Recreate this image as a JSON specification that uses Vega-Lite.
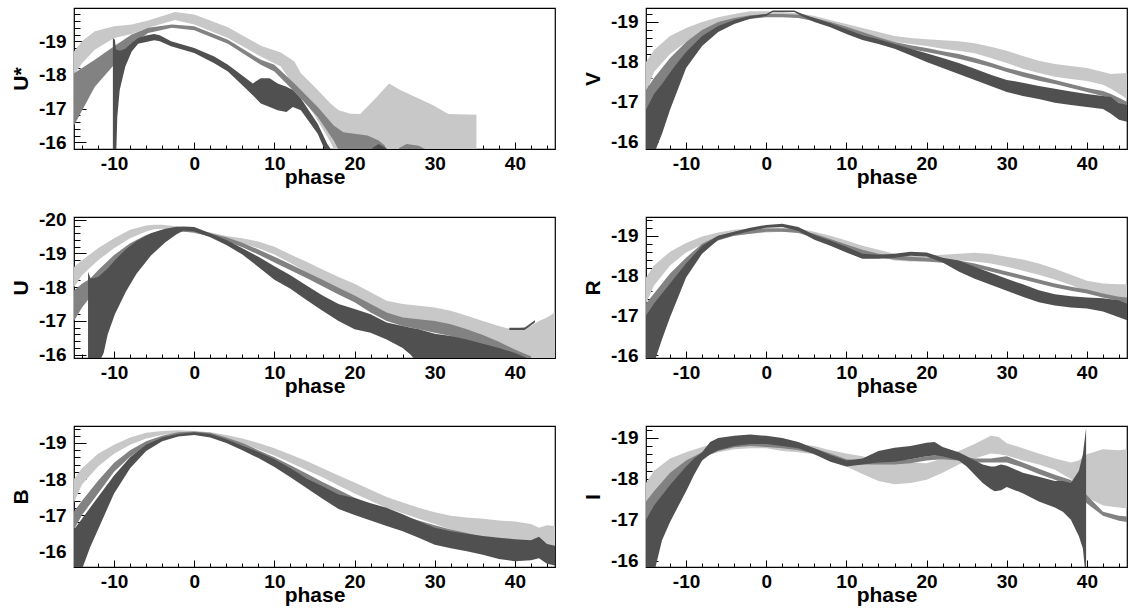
{
"$schema":"https://vega.github.io/schema/vega-lite/v6.json",
"padding":{"left":9,"top":7,"right":0,"bottom":0},
"bounds":"flush",
"columns":2,
"spacing":{"row":68,"column":91},
"config":{"font":"Liberation Sans","view":{"stroke":"#000","strokeWidth":1.2},
"axis":{"domain":false,"grid":false,"labelFont":"Liberation Sans","labelFontSize":19,"labelFontWeight":"bold","labelColor":"#000","tickColor":"#000","tickWidth":1,"titleFont":"Liberation Sans","titleFontSize":21,"titleFontWeight":"bold","titleColor":"#000","labelFlush":false,"labelOverlap":false}},
"data":{"values":[
{"b":"U*","s":"L","g":"L","p":-15,"t":-18.7,"u":-18.0},{"b":"U*","s":"L","g":"L","p":-14,"t":-19.0,"u":-18.35},{"b":"U*","s":"L","g":"L","p":-12.4,"t":-19.3,"u":-18.75},{"b":"U*","s":"L","g":"L","p":-10,"t":-19.45,"u":-19.1},{"b":"U*","s":"L","g":"L","p":-7.8,"t":-19.5,"u":-19.22},{"b":"U*","s":"L","g":"L","p":-5.75,"t":-19.62,"u":-19.4},{"b":"U*","s":"L","g":"L","p":-2.4,"t":-19.87,"u":-19.63},{"b":"U*","s":"L","g":"L","p":0,"t":-19.8,"u":-19.5},{"b":"U*","s":"L","g":"L","p":4.2,"t":-19.42,"u":-19.1},{"b":"U*","s":"L","g":"L","p":8.3,"t":-18.87,"u":-18.55},{"b":"U*","s":"L","g":"L","p":10.8,"t":-18.67,"u":-18.25},{"b":"U*","s":"L","g":"L","p":12.5,"t":-18.4,"u":-17.65},{"b":"U*","s":"L","g":"L","p":13.3,"t":-18.05,"u":-17.4},{"b":"U*","s":"L","g":"L","p":15,"t":-17.65,"u":-16.8},{"b":"U*","s":"L","g":"L","p":17,"t":-17.15,"u":-16.0},{"b":"U*","s":"L","g":"L","p":18,"t":-16.95,"u":-15.5},{"b":"U*","s":"L","g":"L","p":19.5,"t":-16.85,"u":-15.5},{"b":"U*","s":"L","g":"L","p":20.7,"t":-16.84,"u":-15.5},{"b":"U*","s":"L","g":"L","p":22.8,"t":-17.35,"u":-15.5},{"b":"U*","s":"L","g":"L","p":24.3,"t":-17.75,"u":-15.5},{"b":"U*","s":"L","g":"L","p":25.7,"t":-17.55,"u":-15.5},{"b":"U*","s":"L","g":"L","p":29.8,"t":-17.1,"u":-15.5},{"b":"U*","s":"L","g":"L","p":31.7,"t":-16.84,"u":-15.5},{"b":"U*","s":"L","g":"L","p":35.2,"t":-16.82,"u":-15.5},
{"b":"U*","s":"M","g":"M","p":-15,"t":-18.05,"u":-16.5},{"b":"U*","s":"M","g":"M","p":-12.4,"t":-18.45,"u":-17.65},{"b":"U*","s":"M","g":"M","p":-10,"t":-18.85,"u":-18.3},{"b":"U*","s":"M","g":"M","p":-7.8,"t":-19.2,"u":-18.9},{"b":"U*","s":"M","g":"M","p":-5.75,"t":-19.4,"u":-19.25},{"b":"U*","s":"M","g":"M","p":-2.8,"t":-19.5,"u":-19.4},{"b":"U*","s":"M","g":"M","p":0,"t":-19.45,"u":-19.33},{"b":"U*","s":"M","g":"M","p":4.2,"t":-19.05,"u":-18.93},{"b":"U*","s":"M","g":"M","p":8.3,"t":-18.45,"u":-18.3},{"b":"U*","s":"M","g":"M","p":10,"t":-18.3,"u":-18.1},{"b":"U*","s":"M","g":"M","p":12.5,"t":-17.75,"u":-17.5},{"b":"U*","s":"M","g":"M","p":13.3,"t":-17.55,"u":-17.3},{"b":"U*","s":"M","g":"M","p":15.4,"t":-17.05,"u":-16.75},{"b":"U*","s":"M","g":"M","p":17.4,"t":-16.5,"u":-16.05},{"b":"U*","s":"M","g":"M","p":18.6,"t":-16.3,"u":-15.5},{"b":"U*","s":"M","g":"M","p":21.6,"t":-16.2,"u":-15.5},{"b":"U*","s":"M","g":"M","p":23,"t":-16.05,"u":-15.5},{"b":"U*","s":"M","g":"M","p":23.8,"t":-15.9,"u":-15.5},
{"b":"U*","s":"M","g":"M2","p":25.5,"t":-15.82,"u":-15.5},{"b":"U*","s":"M","g":"M2","p":26.5,"t":-15.95,"u":-15.5},{"b":"U*","s":"M","g":"M2","p":28,"t":-15.9,"u":-15.5},{"b":"U*","s":"M","g":"M2","p":28.8,"t":-15.8,"u":-15.5},
{"b":"U*","s":"D","g":"D","p":-10.15,"t":-19.1,"u":-15.5},{"b":"U*","s":"D","g":"D","p":-9.9,"t":-19.05,"u":-15.5},{"b":"U*","s":"D","g":"D","p":-9.75,"t":-18.75,"u":-15.5},{"b":"U*","s":"D","g":"D","p":-9.6,"t":-18.75,"u":-16.75},{"b":"U*","s":"D","g":"D","p":-9.3,"t":-18.72,"u":-17.55},{"b":"U*","s":"D","g":"D","p":-8.6,"t":-18.78,"u":-18.25},{"b":"U*","s":"D","g":"D","p":-7.8,"t":-18.95,"u":-18.7},{"b":"U*","s":"D","g":"D","p":-7,"t":-19.1,"u":-18.93},{"b":"U*","s":"D","g":"D","p":-6,"t":-19.17,"u":-18.98},{"b":"U*","s":"D","g":"D","p":-5,"t":-19.22,"u":-19.03},{"b":"U*","s":"D","g":"D","p":-4.3,"t":-19.18,"u":-19.0},{"b":"U*","s":"D","g":"D","p":-2.9,"t":-19.0,"u":-18.85},{"b":"U*","s":"D","g":"D","p":0,"t":-18.8,"u":-18.65},{"b":"U*","s":"D","g":"D","p":2.5,"t":-18.55,"u":-18.35},{"b":"U*","s":"D","g":"D","p":4.2,"t":-18.3,"u":-18.1},{"b":"U*","s":"D","g":"D","p":6.2,"t":-17.95,"u":-17.65},{"b":"U*","s":"D","g":"D","p":7.3,"t":-17.75,"u":-17.4},{"b":"U*","s":"D","g":"D","p":8.3,"t":-17.9,"u":-17.15},{"b":"U*","s":"D","g":"D","p":9.4,"t":-17.9,"u":-17.05},{"b":"U*","s":"D","g":"D","p":10.4,"t":-17.75,"u":-16.95},{"b":"U*","s":"D","g":"D","p":11.5,"t":-17.65,"u":-16.9},{"b":"U*","s":"D","g":"D","p":12.3,"t":-17.55,"u":-17.05},{"b":"U*","s":"D","g":"D","p":13.3,"t":-17.3,"u":-16.95},{"b":"U*","s":"D","g":"D","p":15.4,"t":-16.55,"u":-16.25},{"b":"U*","s":"D","g":"D","p":16.6,"t":-15.95,"u":-15.6},{"b":"U*","s":"D","g":"D","p":17.3,"t":-15.7,"u":-15.5},
{"b":"U*","s":"D","g":"D2","p":22.2,"t":-15.82,"u":-15.5},{"b":"U*","s":"D","g":"D2","p":23,"t":-15.95,"u":-15.5},{"b":"U*","s":"D","g":"D2","p":24,"t":-15.82,"u":-15.5},

{"b":"V","s":"L","g":"L","p":-15,"t":-18.0,"u":-17.2},{"b":"V","s":"L","g":"L","p":-14,"t":-18.3,"u":-17.75},{"b":"V","s":"L","g":"L","p":-12,"t":-18.65,"u":-18.2},{"b":"V","s":"L","g":"L","p":-10,"t":-18.85,"u":-18.5},{"b":"V","s":"L","g":"L","p":-8,"t":-19.0,"u":-18.75},{"b":"V","s":"L","g":"L","p":-6,"t":-19.12,"u":-18.95},{"b":"V","s":"L","g":"L","p":-4,"t":-19.2,"u":-19.05},{"b":"V","s":"L","g":"L","p":-2,"t":-19.27,"u":-19.12},{"b":"V","s":"L","g":"L","p":0,"t":-19.27,"u":-19.15},{"b":"V","s":"L","g":"L","p":2,"t":-19.25,"u":-19.15},{"b":"V","s":"L","g":"L","p":4,"t":-19.22,"u":-19.12},{"b":"V","s":"L","g":"L","p":6,"t":-19.15,"u":-19.05},{"b":"V","s":"L","g":"L","p":8,"t":-19.05,"u":-18.93},{"b":"V","s":"L","g":"L","p":10,"t":-18.95,"u":-18.8},{"b":"V","s":"L","g":"L","p":12,"t":-18.85,"u":-18.7},{"b":"V","s":"L","g":"L","p":14,"t":-18.75,"u":-18.6},{"b":"V","s":"L","g":"L","p":16,"t":-18.65,"u":-18.5},{"b":"V","s":"L","g":"L","p":18,"t":-18.6,"u":-18.45},{"b":"V","s":"L","g":"L","p":20,"t":-18.57,"u":-18.4},{"b":"V","s":"L","g":"L","p":22,"t":-18.54,"u":-18.33},{"b":"V","s":"L","g":"L","p":24,"t":-18.52,"u":-18.28},{"b":"V","s":"L","g":"L","p":26,"t":-18.47,"u":-18.22},{"b":"V","s":"L","g":"L","p":28,"t":-18.38,"u":-18.1},{"b":"V","s":"L","g":"L","p":30,"t":-18.28,"u":-17.97},{"b":"V","s":"L","g":"L","p":32,"t":-18.15,"u":-17.83},{"b":"V","s":"L","g":"L","p":34,"t":-18.03,"u":-17.72},{"b":"V","s":"L","g":"L","p":36,"t":-17.95,"u":-17.63},{"b":"V","s":"L","g":"L","p":38,"t":-17.9,"u":-17.57},{"b":"V","s":"L","g":"L","p":40,"t":-17.85,"u":-17.52},{"b":"V","s":"L","g":"L","p":42,"t":-17.75,"u":-17.43},{"b":"V","s":"L","g":"L","p":43,"t":-17.7,"u":-17.33},{"b":"V","s":"L","g":"L","p":45,"t":-17.72,"u":-17.08},
{"b":"V","s":"M","g":"M","p":-15,"t":-17.3,"u":-16.6},{"b":"V","s":"M","g":"M","p":-14,"t":-17.6,"u":-17.1},{"b":"V","s":"M","g":"M","p":-12,"t":-18.1,"u":-17.75},{"b":"V","s":"M","g":"M","p":-10,"t":-18.5,"u":-18.2},{"b":"V","s":"M","g":"M","p":-8,"t":-18.8,"u":-18.55},{"b":"V","s":"M","g":"M","p":-6,"t":-19.0,"u":-18.85},{"b":"V","s":"M","g":"M","p":-4,"t":-19.1,"u":-19.0},{"b":"V","s":"M","g":"M","p":-2,"t":-19.17,"u":-19.08},{"b":"V","s":"M","g":"M","p":0,"t":-19.2,"u":-19.12},{"b":"V","s":"M","g":"M","p":2,"t":-19.2,"u":-19.12},{"b":"V","s":"M","g":"M","p":4,"t":-19.18,"u":-19.1},{"b":"V","s":"M","g":"M","p":6,"t":-19.1,"u":-19.02},{"b":"V","s":"M","g":"M","p":8,"t":-19.0,"u":-18.92},{"b":"V","s":"M","g":"M","p":10,"t":-18.88,"u":-18.78},{"b":"V","s":"M","g":"M","p":12,"t":-18.75,"u":-18.65},{"b":"V","s":"M","g":"M","p":14,"t":-18.62,"u":-18.52},{"b":"V","s":"M","g":"M","p":16,"t":-18.5,"u":-18.42},{"b":"V","s":"M","g":"M","p":18,"t":-18.42,"u":-18.32},{"b":"V","s":"M","g":"M","p":20,"t":-18.35,"u":-18.25},{"b":"V","s":"M","g":"M","p":22,"t":-18.27,"u":-18.17},{"b":"V","s":"M","g":"M","p":24,"t":-18.2,"u":-18.08},{"b":"V","s":"M","g":"M","p":26,"t":-18.1,"u":-17.98},{"b":"V","s":"M","g":"M","p":28,"t":-17.98,"u":-17.87},{"b":"V","s":"M","g":"M","p":30,"t":-17.85,"u":-17.75},{"b":"V","s":"M","g":"M","p":32,"t":-17.75,"u":-17.63},{"b":"V","s":"M","g":"M","p":34,"t":-17.65,"u":-17.53},{"b":"V","s":"M","g":"M","p":36,"t":-17.55,"u":-17.45},{"b":"V","s":"M","g":"M","p":38,"t":-17.45,"u":-17.35},{"b":"V","s":"M","g":"M","p":40,"t":-17.35,"u":-17.25},{"b":"V","s":"M","g":"M","p":42,"t":-17.27,"u":-17.15},{"b":"V","s":"M","g":"M","p":43,"t":-17.2,"u":-17.1},{"b":"V","s":"M","g":"M","p":45,"t":-17.0,"u":-16.85},
{"b":"V","s":"D","g":"D","p":-15,"t":-16.8,"u":-15.5},{"b":"V","s":"D","g":"D","p":-14,"t":-17.2,"u":-15.7},{"b":"V","s":"D","g":"D","p":-13,"t":-17.45,"u":-16.2},{"b":"V","s":"D","g":"D","p":-12,"t":-17.75,"u":-16.8},{"b":"V","s":"D","g":"D","p":-10,"t":-18.25,"u":-17.85},{"b":"V","s":"D","g":"D","p":-8,"t":-18.65,"u":-18.4},{"b":"V","s":"D","g":"D","p":-6,"t":-18.9,"u":-18.75},{"b":"V","s":"D","g":"D","p":-4,"t":-19.05,"u":-18.95},{"b":"V","s":"D","g":"D","p":-2,"t":-19.15,"u":-19.08},{"b":"V","s":"D","g":"D","p":0,"t":-19.2,"u":-19.15},{"b":"V","s":"D","g":"D","p":0.8,"t":-19.29,"u":-19.25},{"b":"V","s":"D","g":"D","p":3.5,"t":-19.29,"u":-19.25},{"b":"V","s":"D","g":"D","p":4.5,"t":-19.2,"u":-19.14},{"b":"V","s":"D","g":"D","p":6,"t":-19.1,"u":-19.0},{"b":"V","s":"D","g":"D","p":8,"t":-18.97,"u":-18.87},{"b":"V","s":"D","g":"D","p":10,"t":-18.82,"u":-18.7},{"b":"V","s":"D","g":"D","p":12,"t":-18.67,"u":-18.55},{"b":"V","s":"D","g":"D","p":14,"t":-18.57,"u":-18.45},{"b":"V","s":"D","g":"D","p":16,"t":-18.45,"u":-18.33},{"b":"V","s":"D","g":"D","p":18,"t":-18.33,"u":-18.17},{"b":"V","s":"D","g":"D","p":20,"t":-18.22,"u":-18.0},{"b":"V","s":"D","g":"D","p":22,"t":-18.1,"u":-17.85},{"b":"V","s":"D","g":"D","p":24,"t":-17.97,"u":-17.7},{"b":"V","s":"D","g":"D","p":26,"t":-17.83,"u":-17.55},{"b":"V","s":"D","g":"D","p":28,"t":-17.68,"u":-17.4},{"b":"V","s":"D","g":"D","p":30,"t":-17.55,"u":-17.25},{"b":"V","s":"D","g":"D","p":32,"t":-17.48,"u":-17.15},{"b":"V","s":"D","g":"D","p":34,"t":-17.4,"u":-17.07},{"b":"V","s":"D","g":"D","p":36,"t":-17.33,"u":-16.98},{"b":"V","s":"D","g":"D","p":38,"t":-17.26,"u":-16.92},{"b":"V","s":"D","g":"D","p":40,"t":-17.2,"u":-16.87},{"b":"V","s":"D","g":"D","p":42,"t":-17.15,"u":-16.82},{"b":"V","s":"D","g":"D","p":43,"t":-17.12,"u":-16.7},{"b":"V","s":"D","g":"D","p":44,"t":-16.97,"u":-16.55},{"b":"V","s":"D","g":"D","p":45,"t":-16.92,"u":-16.5},

{"b":"U","s":"L","g":"L","p":-15,"t":-18.6,"u":-18.0},{"b":"U","s":"L","g":"L","p":-14,"t":-18.8,"u":-18.35},{"b":"U","s":"L","g":"L","p":-12,"t":-19.15,"u":-18.8},{"b":"U","s":"L","g":"L","p":-10,"t":-19.45,"u":-19.15},{"b":"U","s":"L","g":"L","p":-8,"t":-19.7,"u":-19.45},{"b":"U","s":"L","g":"L","p":-6,"t":-19.83,"u":-19.65},{"b":"U","s":"L","g":"L","p":-5,"t":-19.85,"u":-19.72},{"b":"U","s":"L","g":"L","p":-4,"t":-19.85,"u":-19.73},{"b":"U","s":"L","g":"L","p":-2,"t":-19.8,"u":-19.7},{"b":"U","s":"L","g":"L","p":0,"t":-19.7,"u":-19.6},{"b":"U","s":"L","g":"L","p":2,"t":-19.62,"u":-19.52},{"b":"U","s":"L","g":"L","p":4,"t":-19.52,"u":-19.4},{"b":"U","s":"L","g":"L","p":6,"t":-19.45,"u":-19.3},{"b":"U","s":"L","g":"L","p":8,"t":-19.35,"u":-19.15},{"b":"U","s":"L","g":"L","p":10,"t":-19.2,"u":-18.97},{"b":"U","s":"L","g":"L","p":12,"t":-18.97,"u":-18.72},{"b":"U","s":"L","g":"L","p":14,"t":-18.75,"u":-18.45},{"b":"U","s":"L","g":"L","p":16,"t":-18.52,"u":-18.2},{"b":"U","s":"L","g":"L","p":18,"t":-18.3,"u":-17.92},{"b":"U","s":"L","g":"L","p":20,"t":-18.1,"u":-17.65},{"b":"U","s":"L","g":"L","p":22,"t":-17.85,"u":-17.4},{"b":"U","s":"L","g":"L","p":24,"t":-17.6,"u":-17.15},{"b":"U","s":"L","g":"L","p":26,"t":-17.5,"u":-17.0},{"b":"U","s":"L","g":"L","p":28,"t":-17.45,"u":-16.92},{"b":"U","s":"L","g":"L","p":30,"t":-17.4,"u":-16.85},{"b":"U","s":"L","g":"L","p":32,"t":-17.3,"u":-16.7},{"b":"U","s":"L","g":"L","p":34,"t":-17.15,"u":-16.5},{"b":"U","s":"L","g":"L","p":36,"t":-17.0,"u":-16.35},{"b":"U","s":"L","g":"L","p":38,"t":-16.85,"u":-16.15},{"b":"U","s":"L","g":"L","p":39,"t":-16.78,"u":-16.05},{"b":"U","s":"L","g":"L","p":40,"t":-16.77,"u":-15.8},{"b":"U","s":"L","g":"L","p":42,"t":-16.85,"u":-15.8},{"b":"U","s":"L","g":"L","p":43,"t":-17.0,"u":-15.8},{"b":"U","s":"L","g":"L","p":44,"t":-17.1,"u":-15.8},{"b":"U","s":"L","g":"L","p":45,"t":-17.25,"u":-15.8},
{"b":"U","s":"M","g":"M","p":-15,"t":-17.9,"u":-17.0},{"b":"U","s":"M","g":"M","p":-14,"t":-18.1,"u":-17.4},{"b":"U","s":"M","g":"M","p":-13,"t":-18.25,"u":-17.7},{"b":"U","s":"M","g":"M","p":-12,"t":-18.5,"u":-17.95},{"b":"U","s":"M","g":"M","p":-10,"t":-18.95,"u":-18.5},{"b":"U","s":"M","g":"M","p":-8,"t":-19.3,"u":-18.95},{"b":"U","s":"M","g":"M","p":-6,"t":-19.55,"u":-19.3},{"b":"U","s":"M","g":"M","p":-4,"t":-19.7,"u":-19.55},{"b":"U","s":"M","g":"M","p":-2,"t":-19.75,"u":-19.65},{"b":"U","s":"M","g":"M","p":0,"t":-19.7,"u":-19.62},{"b":"U","s":"M","g":"M","p":2,"t":-19.6,"u":-19.5},{"b":"U","s":"M","g":"M","p":4,"t":-19.48,"u":-19.36},{"b":"U","s":"M","g":"M","p":6,"t":-19.32,"u":-19.18},{"b":"U","s":"M","g":"M","p":8,"t":-19.12,"u":-18.97},{"b":"U","s":"M","g":"M","p":10,"t":-18.9,"u":-18.73},{"b":"U","s":"M","g":"M","p":12,"t":-18.68,"u":-18.5},{"b":"U","s":"M","g":"M","p":14,"t":-18.45,"u":-18.27},{"b":"U","s":"M","g":"M","p":16,"t":-18.22,"u":-18.03},{"b":"U","s":"M","g":"M","p":18,"t":-17.98,"u":-17.78},{"b":"U","s":"M","g":"M","p":20,"t":-17.75,"u":-17.55},{"b":"U","s":"M","g":"M","p":22,"t":-17.5,"u":-17.25},{"b":"U","s":"M","g":"M","p":24,"t":-17.25,"u":-17.0},{"b":"U","s":"M","g":"M","p":26,"t":-17.1,"u":-16.85},{"b":"U","s":"M","g":"M","p":28,"t":-17.05,"u":-16.75},{"b":"U","s":"M","g":"M","p":30,"t":-17.0,"u":-16.65},{"b":"U","s":"M","g":"M","p":32,"t":-16.9,"u":-16.55},{"b":"U","s":"M","g":"M","p":34,"t":-16.75,"u":-16.4},{"b":"U","s":"M","g":"M","p":36,"t":-16.58,"u":-16.25},{"b":"U","s":"M","g":"M","p":38,"t":-16.38,"u":-16.1},{"b":"U","s":"M","g":"M","p":40,"t":-16.15,"u":-15.9},{"b":"U","s":"M","g":"M","p":41,"t":-16.05,"u":-15.8},{"b":"U","s":"M","g":"M","p":42,"t":-15.95,"u":-15.7},
{"b":"U","s":"D","g":"D","p":-13.25,"t":-18.45,"u":-15.7},{"b":"U","s":"D","g":"D","p":-12.9,"t":-18.25,"u":-15.7},{"b":"U","s":"D","g":"D","p":-12,"t":-18.3,"u":-15.7},{"b":"U","s":"D","g":"D","p":-11.3,"t":-18.45,"u":-16.05},{"b":"U","s":"D","g":"D","p":-10.8,"t":-18.55,"u":-16.6},{"b":"U","s":"D","g":"D","p":-9.9,"t":-18.8,"u":-17.2},{"b":"U","s":"D","g":"D","p":-8.5,"t":-19.13,"u":-17.88},{"b":"U","s":"D","g":"D","p":-7.2,"t":-19.37,"u":-18.4},{"b":"U","s":"D","g":"D","p":-5.4,"t":-19.6,"u":-18.94},{"b":"U","s":"D","g":"D","p":-3.6,"t":-19.73,"u":-19.33},{"b":"U","s":"D","g":"D","p":-2.2,"t":-19.79,"u":-19.57},{"b":"U","s":"D","g":"D","p":-1.3,"t":-19.8,"u":-19.68},{"b":"U","s":"D","g":"D","p":0,"t":-19.78,"u":-19.65},{"b":"U","s":"D","g":"D","p":2,"t":-19.6,"u":-19.48},{"b":"U","s":"D","g":"D","p":4,"t":-19.4,"u":-19.25},{"b":"U","s":"D","g":"D","p":6,"t":-19.15,"u":-18.97},{"b":"U","s":"D","g":"D","p":8,"t":-18.9,"u":-18.6},{"b":"U","s":"D","g":"D","p":10,"t":-18.62,"u":-18.22},{"b":"U","s":"D","g":"D","p":12,"t":-18.35,"u":-17.95},{"b":"U","s":"D","g":"D","p":14,"t":-18.05,"u":-17.62},{"b":"U","s":"D","g":"D","p":16,"t":-17.75,"u":-17.3},{"b":"U","s":"D","g":"D","p":18,"t":-17.5,"u":-17.0},{"b":"U","s":"D","g":"D","p":20,"t":-17.35,"u":-16.75},{"b":"U","s":"D","g":"D","p":22,"t":-17.2,"u":-16.65},{"b":"U","s":"D","g":"D","p":24,"t":-16.95,"u":-16.45},{"b":"U","s":"D","g":"D","p":26,"t":-16.85,"u":-16.2},{"b":"U","s":"D","g":"D","p":27,"t":-16.8,"u":-16.0},{"b":"U","s":"D","g":"D","p":28,"t":-16.75,"u":-15.7},{"b":"U","s":"D","g":"D","p":30,"t":-16.62,"u":-15.7},{"b":"U","s":"D","g":"D","p":32,"t":-16.55,"u":-15.7},{"b":"U","s":"D","g":"D","p":34,"t":-16.45,"u":-15.7},{"b":"U","s":"D","g":"D","p":36,"t":-16.32,"u":-15.7},{"b":"U","s":"D","g":"D","p":38,"t":-16.2,"u":-15.7},{"b":"U","s":"D","g":"D","p":40,"t":-16.05,"u":-15.7},{"b":"U","s":"D","g":"D","p":41.5,"t":-15.9,"u":-15.7},
{"b":"U","s":"D","g":"D2","p":39.3,"t":-16.8,"u":-16.73},{"b":"U","s":"D","g":"D2","p":41.2,"t":-16.8,"u":-16.73},{"b":"U","s":"D","g":"D2","p":42.5,"t":-17.02,"u":-16.95},

{"b":"R","s":"L","g":"L","p":-15,"t":-17.95,"u":-17.3},{"b":"R","s":"L","g":"L","p":-14,"t":-18.25,"u":-17.75},{"b":"R","s":"L","g":"L","p":-12,"t":-18.6,"u":-18.25},{"b":"R","s":"L","g":"L","p":-10,"t":-18.82,"u":-18.58},{"b":"R","s":"L","g":"L","p":-8,"t":-18.98,"u":-18.78},{"b":"R","s":"L","g":"L","p":-6,"t":-19.08,"u":-18.92},{"b":"R","s":"L","g":"L","p":-4,"t":-19.15,"u":-19.0},{"b":"R","s":"L","g":"L","p":-2,"t":-19.18,"u":-19.05},{"b":"R","s":"L","g":"L","p":0,"t":-19.2,"u":-19.08},{"b":"R","s":"L","g":"L","p":2,"t":-19.2,"u":-19.1},{"b":"R","s":"L","g":"L","p":4,"t":-19.18,"u":-19.08},{"b":"R","s":"L","g":"L","p":6,"t":-19.1,"u":-18.98},{"b":"R","s":"L","g":"L","p":8,"t":-19.0,"u":-18.85},{"b":"R","s":"L","g":"L","p":10,"t":-18.88,"u":-18.7},{"b":"R","s":"L","g":"L","p":12,"t":-18.75,"u":-18.58},{"b":"R","s":"L","g":"L","p":14,"t":-18.65,"u":-18.48},{"b":"R","s":"L","g":"L","p":16,"t":-18.55,"u":-18.38},{"b":"R","s":"L","g":"L","p":18,"t":-18.5,"u":-18.35},{"b":"R","s":"L","g":"L","p":20,"t":-18.5,"u":-18.35},{"b":"R","s":"L","g":"L","p":22,"t":-18.52,"u":-18.37},{"b":"R","s":"L","g":"L","p":24,"t":-18.55,"u":-18.38},{"b":"R","s":"L","g":"L","p":26,"t":-18.57,"u":-18.35},{"b":"R","s":"L","g":"L","p":28,"t":-18.54,"u":-18.3},{"b":"R","s":"L","g":"L","p":30,"t":-18.47,"u":-18.22},{"b":"R","s":"L","g":"L","p":32,"t":-18.4,"u":-18.12},{"b":"R","s":"L","g":"L","p":34,"t":-18.3,"u":-18.02},{"b":"R","s":"L","g":"L","p":36,"t":-18.17,"u":-17.9},{"b":"R","s":"L","g":"L","p":38,"t":-18.02,"u":-17.76},{"b":"R","s":"L","g":"L","p":40,"t":-17.87,"u":-17.6},{"b":"R","s":"L","g":"L","p":42,"t":-17.8,"u":-17.53},{"b":"R","s":"L","g":"L","p":44,"t":-17.78,"u":-17.45},{"b":"R","s":"L","g":"L","p":45,"t":-17.78,"u":-17.4},
{"b":"R","s":"M","g":"M","p":-15,"t":-17.3,"u":-16.75},{"b":"R","s":"M","g":"M","p":-14,"t":-17.55,"u":-17.1},{"b":"R","s":"M","g":"M","p":-12,"t":-18.05,"u":-17.7},{"b":"R","s":"M","g":"M","p":-10,"t":-18.45,"u":-18.2},{"b":"R","s":"M","g":"M","p":-8,"t":-18.8,"u":-18.62},{"b":"R","s":"M","g":"M","p":-6,"t":-19.0,"u":-18.88},{"b":"R","s":"M","g":"M","p":-4,"t":-19.1,"u":-19.0},{"b":"R","s":"M","g":"M","p":-2,"t":-19.15,"u":-19.05},{"b":"R","s":"M","g":"M","p":0,"t":-19.18,"u":-19.1},{"b":"R","s":"M","g":"M","p":2,"t":-19.18,"u":-19.1},{"b":"R","s":"M","g":"M","p":4,"t":-19.15,"u":-19.07},{"b":"R","s":"M","g":"M","p":6,"t":-19.05,"u":-18.95},{"b":"R","s":"M","g":"M","p":8,"t":-18.92,"u":-18.82},{"b":"R","s":"M","g":"M","p":10,"t":-18.78,"u":-18.66},{"b":"R","s":"M","g":"M","p":12,"t":-18.65,"u":-18.53},{"b":"R","s":"M","g":"M","p":14,"t":-18.55,"u":-18.45},{"b":"R","s":"M","g":"M","p":16,"t":-18.5,"u":-18.4},{"b":"R","s":"M","g":"M","p":18,"t":-18.47,"u":-18.37},{"b":"R","s":"M","g":"M","p":20,"t":-18.45,"u":-18.35},{"b":"R","s":"M","g":"M","p":22,"t":-18.42,"u":-18.32},{"b":"R","s":"M","g":"M","p":24,"t":-18.38,"u":-18.28},{"b":"R","s":"M","g":"M","p":26,"t":-18.3,"u":-18.2},{"b":"R","s":"M","g":"M","p":28,"t":-18.2,"u":-18.1},{"b":"R","s":"M","g":"M","p":30,"t":-18.1,"u":-18.0},{"b":"R","s":"M","g":"M","p":32,"t":-18.0,"u":-17.9},{"b":"R","s":"M","g":"M","p":34,"t":-17.9,"u":-17.8},{"b":"R","s":"M","g":"M","p":36,"t":-17.8,"u":-17.7},{"b":"R","s":"M","g":"M","p":38,"t":-17.72,"u":-17.62},{"b":"R","s":"M","g":"M","p":40,"t":-17.65,"u":-17.55},{"b":"R","s":"M","g":"M","p":42,"t":-17.55,"u":-17.45},{"b":"R","s":"M","g":"M","p":44,"t":-17.47,"u":-17.37},{"b":"R","s":"M","g":"M","p":45,"t":-17.45,"u":-17.3},
{"b":"R","s":"D","g":"D","p":-15,"t":-17.0,"u":-15.5},{"b":"R","s":"D","g":"D","p":-14,"t":-17.3,"u":-15.8},{"b":"R","s":"D","g":"D","p":-13,"t":-17.55,"u":-16.4},{"b":"R","s":"D","g":"D","p":-12,"t":-17.8,"u":-16.95},{"b":"R","s":"D","g":"D","p":-10,"t":-18.3,"u":-17.95},{"b":"R","s":"D","g":"D","p":-8,"t":-18.75,"u":-18.55},{"b":"R","s":"D","g":"D","p":-6,"t":-19.0,"u":-18.9},{"b":"R","s":"D","g":"D","p":-4,"t":-19.1,"u":-19.02},{"b":"R","s":"D","g":"D","p":-2,"t":-19.2,"u":-19.12},{"b":"R","s":"D","g":"D","p":0,"t":-19.27,"u":-19.2},{"b":"R","s":"D","g":"D","p":2,"t":-19.3,"u":-19.22},{"b":"R","s":"D","g":"D","p":4,"t":-19.22,"u":-19.12},{"b":"R","s":"D","g":"D","p":6,"t":-19.02,"u":-18.9},{"b":"R","s":"D","g":"D","p":8,"t":-18.88,"u":-18.75},{"b":"R","s":"D","g":"D","p":10,"t":-18.72,"u":-18.58},{"b":"R","s":"D","g":"D","p":12,"t":-18.55,"u":-18.42},{"b":"R","s":"D","g":"D","p":14,"t":-18.52,"u":-18.42},{"b":"R","s":"D","g":"D","p":16,"t":-18.55,"u":-18.45},{"b":"R","s":"D","g":"D","p":18,"t":-18.6,"u":-18.5},{"b":"R","s":"D","g":"D","p":20,"t":-18.58,"u":-18.48},{"b":"R","s":"D","g":"D","p":22,"t":-18.45,"u":-18.33},{"b":"R","s":"D","g":"D","p":24,"t":-18.38,"u":-18.1},{"b":"R","s":"D","g":"D","p":26,"t":-18.22,"u":-17.92},{"b":"R","s":"D","g":"D","p":28,"t":-18.07,"u":-17.77},{"b":"R","s":"D","g":"D","p":30,"t":-17.92,"u":-17.62},{"b":"R","s":"D","g":"D","p":32,"t":-17.78,"u":-17.47},{"b":"R","s":"D","g":"D","p":34,"t":-17.63,"u":-17.33},{"b":"R","s":"D","g":"D","p":36,"t":-17.53,"u":-17.25},{"b":"R","s":"D","g":"D","p":38,"t":-17.48,"u":-17.2},{"b":"R","s":"D","g":"D","p":40,"t":-17.45,"u":-17.17},{"b":"R","s":"D","g":"D","p":42,"t":-17.43,"u":-17.1},{"b":"R","s":"D","g":"D","p":44,"t":-17.38,"u":-16.95},{"b":"R","s":"D","g":"D","p":45,"t":-17.3,"u":-16.88},

{"b":"B","s":"L","g":"L","p":-15,"t":-18.0,"u":-17.35},{"b":"B","s":"L","g":"L","p":-14,"t":-18.3,"u":-17.85},{"b":"B","s":"L","g":"L","p":-12,"t":-18.7,"u":-18.35},{"b":"B","s":"L","g":"L","p":-10,"t":-18.95,"u":-18.7},{"b":"B","s":"L","g":"L","p":-8,"t":-19.15,"u":-18.95},{"b":"B","s":"L","g":"L","p":-6,"t":-19.28,"u":-19.12},{"b":"B","s":"L","g":"L","p":-4,"t":-19.33,"u":-19.22},{"b":"B","s":"L","g":"L","p":-2,"t":-19.35,"u":-19.27},{"b":"B","s":"L","g":"L","p":0,"t":-19.33,"u":-19.25},{"b":"B","s":"L","g":"L","p":2,"t":-19.3,"u":-19.2},{"b":"B","s":"L","g":"L","p":4,"t":-19.22,"u":-19.1},{"b":"B","s":"L","g":"L","p":6,"t":-19.12,"u":-18.98},{"b":"B","s":"L","g":"L","p":8,"t":-19.0,"u":-18.82},{"b":"B","s":"L","g":"L","p":10,"t":-18.85,"u":-18.65},{"b":"B","s":"L","g":"L","p":12,"t":-18.68,"u":-18.45},{"b":"B","s":"L","g":"L","p":14,"t":-18.5,"u":-18.25},{"b":"B","s":"L","g":"L","p":16,"t":-18.3,"u":-18.05},{"b":"B","s":"L","g":"L","p":18,"t":-18.1,"u":-17.82},{"b":"B","s":"L","g":"L","p":20,"t":-17.9,"u":-17.6},{"b":"B","s":"L","g":"L","p":22,"t":-17.7,"u":-17.4},{"b":"B","s":"L","g":"L","p":24,"t":-17.5,"u":-17.2},{"b":"B","s":"L","g":"L","p":26,"t":-17.35,"u":-17.05},{"b":"B","s":"L","g":"L","p":28,"t":-17.2,"u":-16.9},{"b":"B","s":"L","g":"L","p":30,"t":-17.08,"u":-16.75},{"b":"B","s":"L","g":"L","p":32,"t":-16.98,"u":-16.6},{"b":"B","s":"L","g":"L","p":34,"t":-16.93,"u":-16.45},{"b":"B","s":"L","g":"L","p":36,"t":-16.9,"u":-16.38},{"b":"B","s":"L","g":"L","p":38,"t":-16.85,"u":-16.32},{"b":"B","s":"L","g":"L","p":40,"t":-16.82,"u":-16.28},{"b":"B","s":"L","g":"L","p":42,"t":-16.75,"u":-16.2},{"b":"B","s":"L","g":"L","p":43,"t":-16.65,"u":-16.1},{"b":"B","s":"L","g":"L","p":44,"t":-16.72,"u":-16.05},{"b":"B","s":"L","g":"L","p":45,"t":-16.7,"u":-16.05},
{"b":"B","s":"M","g":"M","p":-15,"t":-17.1,"u":-16.6},{"b":"B","s":"M","g":"M","p":-14,"t":-17.4,"u":-17.0},{"b":"B","s":"M","g":"M","p":-12,"t":-17.95,"u":-17.6},{"b":"B","s":"M","g":"M","p":-10,"t":-18.45,"u":-18.2},{"b":"B","s":"M","g":"M","p":-8,"t":-18.8,"u":-18.62},{"b":"B","s":"M","g":"M","p":-6,"t":-19.05,"u":-18.92},{"b":"B","s":"M","g":"M","p":-4,"t":-19.2,"u":-19.1},{"b":"B","s":"M","g":"M","p":-2,"t":-19.3,"u":-19.22},{"b":"B","s":"M","g":"M","p":0,"t":-19.32,"u":-19.25},{"b":"B","s":"M","g":"M","p":2,"t":-19.28,"u":-19.2},{"b":"B","s":"M","g":"M","p":4,"t":-19.15,"u":-19.07},{"b":"B","s":"M","g":"M","p":6,"t":-19.0,"u":-18.9},{"b":"B","s":"M","g":"M","p":8,"t":-18.8,"u":-18.7},{"b":"B","s":"M","g":"M","p":10,"t":-18.6,"u":-18.48},{"b":"B","s":"M","g":"M","p":12,"t":-18.38,"u":-18.25},{"b":"B","s":"M","g":"M","p":14,"t":-18.15,"u":-18.02},{"b":"B","s":"M","g":"M","p":16,"t":-17.92,"u":-17.78},{"b":"B","s":"M","g":"M","p":18,"t":-17.7,"u":-17.55},{"b":"B","s":"M","g":"M","p":20,"t":-17.48,"u":-17.32},{"b":"B","s":"M","g":"M","p":22,"t":-17.3,"u":-17.15},{"b":"B","s":"M","g":"M","p":24,"t":-17.12,"u":-16.98},{"b":"B","s":"M","g":"M","p":26,"t":-16.98,"u":-16.83},{"b":"B","s":"M","g":"M","p":28,"t":-16.85,"u":-16.7},{"b":"B","s":"M","g":"M","p":30,"t":-16.72,"u":-16.58},{"b":"B","s":"M","g":"M","p":32,"t":-16.6,"u":-16.45},{"b":"B","s":"M","g":"M","p":34,"t":-16.5,"u":-16.35},{"b":"B","s":"M","g":"M","p":36,"t":-16.4,"u":-16.25},{"b":"B","s":"M","g":"M","p":38,"t":-16.32,"u":-16.17},{"b":"B","s":"M","g":"M","p":40,"t":-16.25,"u":-16.1},{"b":"B","s":"M","g":"M","p":42,"t":-16.18,"u":-16.03},{"b":"B","s":"M","g":"M","p":44,"t":-16.1,"u":-15.95},{"b":"B","s":"M","g":"M","p":45,"t":-16.05,"u":-15.9},
{"b":"B","s":"D","g":"D","p":-15,"t":-16.6,"u":-15.4},{"b":"B","s":"D","g":"D","p":-14,"t":-16.9,"u":-15.5},{"b":"B","s":"D","g":"D","p":-13,"t":-17.2,"u":-16.1},{"b":"B","s":"D","g":"D","p":-12,"t":-17.5,"u":-16.6},{"b":"B","s":"D","g":"D","p":-10,"t":-18.1,"u":-17.6},{"b":"B","s":"D","g":"D","p":-8,"t":-18.6,"u":-18.3},{"b":"B","s":"D","g":"D","p":-6,"t":-18.95,"u":-18.78},{"b":"B","s":"D","g":"D","p":-4,"t":-19.15,"u":-19.05},{"b":"B","s":"D","g":"D","p":-2,"t":-19.25,"u":-19.18},{"b":"B","s":"D","g":"D","p":0,"t":-19.3,"u":-19.22},{"b":"B","s":"D","g":"D","p":2,"t":-19.25,"u":-19.15},{"b":"B","s":"D","g":"D","p":4,"t":-19.1,"u":-19.0},{"b":"B","s":"D","g":"D","p":6,"t":-18.92,"u":-18.8},{"b":"B","s":"D","g":"D","p":8,"t":-18.75,"u":-18.58},{"b":"B","s":"D","g":"D","p":10,"t":-18.55,"u":-18.33},{"b":"B","s":"D","g":"D","p":12,"t":-18.3,"u":-18.05},{"b":"B","s":"D","g":"D","p":14,"t":-18.02,"u":-17.75},{"b":"B","s":"D","g":"D","p":16,"t":-17.8,"u":-17.45},{"b":"B","s":"D","g":"D","p":18,"t":-17.57,"u":-17.17},{"b":"B","s":"D","g":"D","p":20,"t":-17.47,"u":-17.0},{"b":"B","s":"D","g":"D","p":22,"t":-17.33,"u":-16.85},{"b":"B","s":"D","g":"D","p":24,"t":-17.2,"u":-16.7},{"b":"B","s":"D","g":"D","p":26,"t":-17.02,"u":-16.55},{"b":"B","s":"D","g":"D","p":28,"t":-16.83,"u":-16.37},{"b":"B","s":"D","g":"D","p":30,"t":-16.65,"u":-16.18},{"b":"B","s":"D","g":"D","p":32,"t":-16.55,"u":-16.08},{"b":"B","s":"D","g":"D","p":34,"t":-16.48,"u":-16.0},{"b":"B","s":"D","g":"D","p":36,"t":-16.42,"u":-15.9},{"b":"B","s":"D","g":"D","p":38,"t":-16.37,"u":-15.78},{"b":"B","s":"D","g":"D","p":40,"t":-16.33,"u":-15.72},{"b":"B","s":"D","g":"D","p":42,"t":-16.3,"u":-15.75},{"b":"B","s":"D","g":"D","p":43,"t":-16.4,"u":-15.8},{"b":"B","s":"D","g":"D","p":44,"t":-16.2,"u":-15.65},{"b":"B","s":"D","g":"D","p":45,"t":-16.15,"u":-15.6},

{"b":"I","s":"L","g":"L","p":-15,"t":-17.9,"u":-17.1},{"b":"I","s":"L","g":"L","p":-14,"t":-18.2,"u":-17.6},{"b":"I","s":"L","g":"L","p":-12,"t":-18.5,"u":-18.1},{"b":"I","s":"L","g":"L","p":-10,"t":-18.65,"u":-18.4},{"b":"I","s":"L","g":"L","p":-8,"t":-18.78,"u":-18.55},{"b":"I","s":"L","g":"L","p":-6,"t":-18.88,"u":-18.65},{"b":"I","s":"L","g":"L","p":-4,"t":-18.93,"u":-18.72},{"b":"I","s":"L","g":"L","p":-2,"t":-18.95,"u":-18.75},{"b":"I","s":"L","g":"L","p":0,"t":-18.93,"u":-18.75},{"b":"I","s":"L","g":"L","p":2,"t":-18.88,"u":-18.68},{"b":"I","s":"L","g":"L","p":4,"t":-18.85,"u":-18.65},{"b":"I","s":"L","g":"L","p":6,"t":-18.8,"u":-18.6},{"b":"I","s":"L","g":"L","p":8,"t":-18.7,"u":-18.45},{"b":"I","s":"L","g":"L","p":10,"t":-18.62,"u":-18.3},{"b":"I","s":"L","g":"L","p":12,"t":-18.55,"u":-18.12},{"b":"I","s":"L","g":"L","p":14,"t":-18.45,"u":-17.95},{"b":"I","s":"L","g":"L","p":16,"t":-18.42,"u":-17.87},{"b":"I","s":"L","g":"L","p":18,"t":-18.4,"u":-17.9},{"b":"I","s":"L","g":"L","p":20,"t":-18.38,"u":-17.98},{"b":"I","s":"L","g":"L","p":22,"t":-18.5,"u":-18.15},{"b":"I","s":"L","g":"L","p":24,"t":-18.68,"u":-18.35},{"b":"I","s":"L","g":"L","p":26,"t":-18.85,"u":-18.5},{"b":"I","s":"L","g":"L","p":28,"t":-19.05,"u":-18.62},{"b":"I","s":"L","g":"L","p":29,"t":-19.02,"u":-18.6},{"b":"I","s":"L","g":"L","p":30,"t":-18.87,"u":-18.57},{"b":"I","s":"L","g":"L","p":32,"t":-18.75,"u":-18.45},{"b":"I","s":"L","g":"L","p":34,"t":-18.62,"u":-18.35},{"b":"I","s":"L","g":"L","p":36,"t":-18.5,"u":-18.22},{"b":"I","s":"L","g":"L","p":38,"t":-18.4,"u":-18.0},{"b":"I","s":"L","g":"L","p":39,"t":-18.45,"u":-17.8},{"b":"I","s":"L","g":"L","p":40,"t":-18.6,"u":-17.55},{"b":"I","s":"L","g":"L","p":42,"t":-18.72,"u":-17.35},{"b":"I","s":"L","g":"L","p":44,"t":-18.7,"u":-17.3},{"b":"I","s":"L","g":"L","p":45,"t":-18.72,"u":-17.28},
{"b":"I","s":"M","g":"M","p":-15,"t":-17.45,"u":-16.9},{"b":"I","s":"M","g":"M","p":-14,"t":-17.7,"u":-17.2},{"b":"I","s":"M","g":"M","p":-12,"t":-18.15,"u":-17.75},{"b":"I","s":"M","g":"M","p":-10,"t":-18.45,"u":-18.2},{"b":"I","s":"M","g":"M","p":-8,"t":-18.65,"u":-18.5},{"b":"I","s":"M","g":"M","p":-6,"t":-18.8,"u":-18.68},{"b":"I","s":"M","g":"M","p":-4,"t":-18.88,"u":-18.77},{"b":"I","s":"M","g":"M","p":-2,"t":-18.9,"u":-18.8},{"b":"I","s":"M","g":"M","p":0,"t":-18.88,"u":-18.78},{"b":"I","s":"M","g":"M","p":2,"t":-18.85,"u":-18.75},{"b":"I","s":"M","g":"M","p":4,"t":-18.8,"u":-18.7},{"b":"I","s":"M","g":"M","p":6,"t":-18.75,"u":-18.62},{"b":"I","s":"M","g":"M","p":8,"t":-18.62,"u":-18.48},{"b":"I","s":"M","g":"M","p":10,"t":-18.48,"u":-18.35},{"b":"I","s":"M","g":"M","p":12,"t":-18.45,"u":-18.35},{"b":"I","s":"M","g":"M","p":14,"t":-18.45,"u":-18.35},{"b":"I","s":"M","g":"M","p":16,"t":-18.45,"u":-18.35},{"b":"I","s":"M","g":"M","p":18,"t":-18.48,"u":-18.38},{"b":"I","s":"M","g":"M","p":20,"t":-18.55,"u":-18.45},{"b":"I","s":"M","g":"M","p":22,"t":-18.58,"u":-18.48},{"b":"I","s":"M","g":"M","p":24,"t":-18.55,"u":-18.45},{"b":"I","s":"M","g":"M","p":26,"t":-18.5,"u":-18.4},{"b":"I","s":"M","g":"M","p":28,"t":-18.5,"u":-18.4},{"b":"I","s":"M","g":"M","p":30,"t":-18.55,"u":-18.4},{"b":"I","s":"M","g":"M","p":32,"t":-18.4,"u":-18.28},{"b":"I","s":"M","g":"M","p":34,"t":-18.25,"u":-18.12},{"b":"I","s":"M","g":"M","p":36,"t":-18.1,"u":-17.98},{"b":"I","s":"M","g":"M","p":38,"t":-17.97,"u":-17.82},{"b":"I","s":"M","g":"M","p":40,"t":-17.6,"u":-17.4},{"b":"I","s":"M","g":"M","p":42,"t":-17.2,"u":-17.1},{"b":"I","s":"M","g":"M","p":44,"t":-17.1,"u":-16.98},{"b":"I","s":"M","g":"M","p":45,"t":-17.08,"u":-16.95},
{"b":"I","s":"D","g":"D","p":-15,"t":-17.0,"u":-15.5},{"b":"I","s":"D","g":"D","p":-14,"t":-17.35,"u":-15.7},{"b":"I","s":"D","g":"D","p":-13,"t":-17.6,"u":-16.5},{"b":"I","s":"D","g":"D","p":-12,"t":-17.85,"u":-16.95},{"b":"I","s":"D","g":"D","p":-10,"t":-18.3,"u":-17.7},{"b":"I","s":"D","g":"D","p":-9,"t":-18.5,"u":-18.1},{"b":"I","s":"D","g":"D","p":-8,"t":-18.65,"u":-18.45},{"b":"I","s":"D","g":"D","p":-7,"t":-18.9,"u":-18.6},{"b":"I","s":"D","g":"D","p":-6,"t":-19.0,"u":-18.7},{"b":"I","s":"D","g":"D","p":-4,"t":-19.05,"u":-18.8},{"b":"I","s":"D","g":"D","p":-2,"t":-19.08,"u":-18.85},{"b":"I","s":"D","g":"D","p":0,"t":-19.05,"u":-18.85},{"b":"I","s":"D","g":"D","p":2,"t":-19.0,"u":-18.8},{"b":"I","s":"D","g":"D","p":4,"t":-18.9,"u":-18.75},{"b":"I","s":"D","g":"D","p":6,"t":-18.75,"u":-18.6},{"b":"I","s":"D","g":"D","p":8,"t":-18.58,"u":-18.42},{"b":"I","s":"D","g":"D","p":10,"t":-18.45,"u":-18.3},{"b":"I","s":"D","g":"D","p":12,"t":-18.5,"u":-18.35},{"b":"I","s":"D","g":"D","p":14,"t":-18.68,"u":-18.4},{"b":"I","s":"D","g":"D","p":16,"t":-18.76,"u":-18.42},{"b":"I","s":"D","g":"D","p":18,"t":-18.8,"u":-18.48},{"b":"I","s":"D","g":"D","p":20,"t":-18.88,"u":-18.55},{"b":"I","s":"D","g":"D","p":21,"t":-18.9,"u":-18.57},{"b":"I","s":"D","g":"D","p":22,"t":-18.78,"u":-18.55},{"b":"I","s":"D","g":"D","p":24,"t":-18.65,"u":-18.45},{"b":"I","s":"D","g":"D","p":25,"t":-18.55,"u":-18.3},{"b":"I","s":"D","g":"D","p":26,"t":-18.45,"u":-18.1},{"b":"I","s":"D","g":"D","p":27,"t":-18.35,"u":-17.9},{"b":"I","s":"D","g":"D","p":28,"t":-18.3,"u":-17.75},{"b":"I","s":"D","g":"D","p":28.5,"t":-18.3,"u":-17.7},{"b":"I","s":"D","g":"D","p":29.3,"t":-18.35,"u":-17.72},{"b":"I","s":"D","g":"D","p":30,"t":-18.32,"u":-17.8},{"b":"I","s":"D","g":"D","p":32,"t":-18.15,"u":-17.65},{"b":"I","s":"D","g":"D","p":34,"t":-18.05,"u":-17.45},{"b":"I","s":"D","g":"D","p":36,"t":-17.95,"u":-17.3},{"b":"I","s":"D","g":"D","p":37,"t":-17.95,"u":-17.2},{"b":"I","s":"D","g":"D","p":38,"t":-17.9,"u":-17.0},{"b":"I","s":"D","g":"D","p":39,"t":-18.2,"u":-16.6},{"b":"I","s":"D","g":"D","p":39.5,"t":-18.6,"u":-16.3},{"b":"I","s":"D","g":"D","p":39.9,"t":-19.25,"u":-15.5}
]},
"concat":[
{"width":481,"height":141,"transform":[{"filter":"datum.b=='U*'"}],"resolve":{"axis":{"x":"independent","y":"independent"}},
"layer":[
{"transform":[{"filter":"datum.s=='L'"}],"mark":{"type":"area","color":"#c8c8c8","clip":true},"encoding":{"x":{"field":"p","type":"quantitative","scale":{"domain":[-15,45],"nice":false,"zero":false},"axis":{"orient":"bottom","values":[-10,0,10,20,30,40],"labelExpr":"''+datum.value","tickSize":-7,"labelPadding":12,"title":"phase","titlePadding":-7}},"y":{"field":"t","type":"quantitative","scale":{"domain":[-19.99,-15.8],"reverse":true,"nice":false,"zero":false},"axis":{"orient":"left","values":[-19,-18,-17,-16],"labelExpr":"''+datum.value","tickSize":-12,"labelPadding":20,"title":"U*","titlePadding":7}},"y2":{"field":"u"},"detail":{"field":"g"}}},
{"transform":[{"filter":"datum.s=='M'"}],"mark":{"type":"area","color":"#828282","clip":true},"encoding":{"x":{"field":"p","type":"quantitative","scale":{"domain":[-15,45],"nice":false,"zero":false},"axis":{"orient":"bottom","values":[-14,-12,-8,-6,-4,-2,2,4,6,8,12,14,16,18,22,24,26,28,32,34,36,38,42,44],"tickSize":-4,"labels":false,"title":null}},"y":{"field":"t","type":"quantitative","scale":{"domain":[-19.99,-15.8],"reverse":true,"nice":false,"zero":false},"axis":{"orient":"left","values":[-19.8,-19.6,-19.4,-19.2,-18.8,-18.6,-18.4,-18.2,-17.8,-17.6,-17.4,-17.2,-16.8,-16.6,-16.4,-16.2],"tickSize":-6,"labels":false,"title":null}},"y2":{"field":"u"},"detail":{"field":"g"}}},
{"transform":[{"filter":"datum.s=='D'"}],"mark":{"type":"area","color":"#505050","clip":true},"encoding":{"x":{"field":"p","type":"quantitative","scale":{"domain":[-15,45],"nice":false,"zero":false},"axis":null},"y":{"field":"t","type":"quantitative","scale":{"domain":[-19.99,-15.8],"reverse":true,"nice":false,"zero":false},"axis":null},"y2":{"field":"u"},"detail":{"field":"g"}}}
]},
{"width":481,"height":141,"transform":[{"filter":"datum.b=='V'"}],"resolve":{"axis":{"x":"independent","y":"independent"}},
"layer":[
{"transform":[{"filter":"datum.s=='L'"}],"mark":{"type":"area","color":"#c8c8c8","clip":true},"encoding":{"x":{"field":"p","type":"quantitative","scale":{"domain":[-15,45],"nice":false,"zero":false},"axis":{"orient":"bottom","values":[-10,0,10,20,30,40],"labelExpr":"''+datum.value","tickSize":-7,"labelPadding":12,"title":"phase","titlePadding":-7}},"y":{"field":"t","type":"quantitative","scale":{"domain":[-19.35,-15.82],"reverse":true,"nice":false,"zero":false},"axis":{"orient":"left","values":[-19,-18,-17,-16],"labelExpr":"''+datum.value","tickSize":-12,"labelPadding":20,"title":"V","titlePadding":7}},"y2":{"field":"u"},"detail":{"field":"g"}}},
{"transform":[{"filter":"datum.s=='M'"}],"mark":{"type":"area","color":"#828282","clip":true},"encoding":{"x":{"field":"p","type":"quantitative","scale":{"domain":[-15,45],"nice":false,"zero":false},"axis":{"orient":"bottom","values":[-14,-12,-8,-6,-4,-2,2,4,6,8,12,14,16,18,22,24,26,28,32,34,36,38,42,44],"tickSize":-4,"labels":false,"title":null}},"y":{"field":"t","type":"quantitative","scale":{"domain":[-19.35,-15.82],"reverse":true,"nice":false,"zero":false},"axis":{"orient":"left","values":[-19.2,-18.8,-18.6,-18.4,-18.2,-17.8,-17.6,-17.4,-17.2,-16.8,-16.6,-16.4,-16.2],"tickSize":-6,"labels":false,"title":null}},"y2":{"field":"u"},"detail":{"field":"g"}}},
{"transform":[{"filter":"datum.s=='D'"}],"mark":{"type":"area","color":"#505050","clip":true},"encoding":{"x":{"field":"p","type":"quantitative","scale":{"domain":[-15,45],"nice":false,"zero":false},"axis":null},"y":{"field":"t","type":"quantitative","scale":{"domain":[-19.35,-15.82],"reverse":true,"nice":false,"zero":false},"axis":null},"y2":{"field":"u"},"detail":{"field":"g"}}}
]},
{"width":481,"height":141,"transform":[{"filter":"datum.b=='U'"}],"resolve":{"axis":{"x":"independent","y":"independent"}},
"layer":[
{"transform":[{"filter":"datum.s=='L'"}],"mark":{"type":"area","color":"#c8c8c8","clip":true},"encoding":{"x":{"field":"p","type":"quantitative","scale":{"domain":[-15,45],"nice":false,"zero":false},"axis":{"orient":"bottom","values":[-10,0,10,20,30,40],"labelExpr":"''+datum.value","tickSize":-7,"labelPadding":12,"title":"phase","titlePadding":-7}},"y":{"field":"t","type":"quantitative","scale":{"domain":[-20.08,-15.9],"reverse":true,"nice":false,"zero":false},"axis":{"orient":"left","values":[-20,-19,-18,-17,-16],"labelExpr":"''+datum.value","tickSize":-12,"labelPadding":20,"title":"U","titlePadding":7}},"y2":{"field":"u"},"detail":{"field":"g"}}},
{"transform":[{"filter":"datum.s=='M'"}],"mark":{"type":"area","color":"#828282","clip":true},"encoding":{"x":{"field":"p","type":"quantitative","scale":{"domain":[-15,45],"nice":false,"zero":false},"axis":{"orient":"bottom","values":[-14,-12,-8,-6,-4,-2,2,4,6,8,12,14,16,18,22,24,26,28,32,34,36,38,42,44],"tickSize":-4,"labels":false,"title":null}},"y":{"field":"t","type":"quantitative","scale":{"domain":[-20.08,-15.9],"reverse":true,"nice":false,"zero":false},"axis":{"orient":"left","values":[-19.8,-19.6,-19.4,-19.2,-18.8,-18.6,-18.4,-18.2,-17.8,-17.6,-17.4,-17.2,-16.8,-16.6,-16.4,-16.2],"tickSize":-6,"labels":false,"title":null}},"y2":{"field":"u"},"detail":{"field":"g"}}},
{"transform":[{"filter":"datum.s=='D'"}],"mark":{"type":"area","color":"#505050","clip":true},"encoding":{"x":{"field":"p","type":"quantitative","scale":{"domain":[-15,45],"nice":false,"zero":false},"axis":null},"y":{"field":"t","type":"quantitative","scale":{"domain":[-20.08,-15.9],"reverse":true,"nice":false,"zero":false},"axis":null},"y2":{"field":"u"},"detail":{"field":"g"}}}
]},
{"width":481,"height":141,"transform":[{"filter":"datum.b=='R'"}],"resolve":{"axis":{"x":"independent","y":"independent"}},
"layer":[
{"transform":[{"filter":"datum.s=='L'"}],"mark":{"type":"area","color":"#c8c8c8","clip":true},"encoding":{"x":{"field":"p","type":"quantitative","scale":{"domain":[-15,45],"nice":false,"zero":false},"axis":{"orient":"bottom","values":[-10,0,10,20,30,40],"labelExpr":"''+datum.value","tickSize":-7,"labelPadding":12,"title":"phase","titlePadding":-7}},"y":{"field":"t","type":"quantitative","scale":{"domain":[-19.47,-15.93],"reverse":true,"nice":false,"zero":false},"axis":{"orient":"left","values":[-19,-18,-17,-16],"labelExpr":"''+datum.value","tickSize":-12,"labelPadding":20,"title":"R","titlePadding":7}},"y2":{"field":"u"},"detail":{"field":"g"}}},
{"transform":[{"filter":"datum.s=='M'"}],"mark":{"type":"area","color":"#828282","clip":true},"encoding":{"x":{"field":"p","type":"quantitative","scale":{"domain":[-15,45],"nice":false,"zero":false},"axis":{"orient":"bottom","values":[-14,-12,-8,-6,-4,-2,2,4,6,8,12,14,16,18,22,24,26,28,32,34,36,38,42,44],"tickSize":-4,"labels":false,"title":null}},"y":{"field":"t","type":"quantitative","scale":{"domain":[-19.47,-15.93],"reverse":true,"nice":false,"zero":false},"axis":{"orient":"left","values":[-19.4,-19.2,-18.8,-18.6,-18.4,-18.2,-17.8,-17.6,-17.4,-17.2,-16.8,-16.6,-16.4,-16.2],"tickSize":-6,"labels":false,"title":null}},"y2":{"field":"u"},"detail":{"field":"g"}}},
{"transform":[{"filter":"datum.s=='D'"}],"mark":{"type":"area","color":"#505050","clip":true},"encoding":{"x":{"field":"p","type":"quantitative","scale":{"domain":[-15,45],"nice":false,"zero":false},"axis":null},"y":{"field":"t","type":"quantitative","scale":{"domain":[-19.47,-15.93],"reverse":true,"nice":false,"zero":false},"axis":null},"y2":{"field":"u"},"detail":{"field":"g"}}}
]},
{"width":481,"height":141,"transform":[{"filter":"datum.b=='B'"}],"resolve":{"axis":{"x":"independent","y":"independent"}},
"layer":[
{"transform":[{"filter":"datum.s=='L'"}],"mark":{"type":"area","color":"#c8c8c8","clip":true},"encoding":{"x":{"field":"p","type":"quantitative","scale":{"domain":[-15,45],"nice":false,"zero":false},"axis":{"orient":"bottom","values":[-10,0,10,20,30,40],"labelExpr":"''+datum.value","tickSize":-7,"labelPadding":12,"title":"phase","titlePadding":-7}},"y":{"field":"t","type":"quantitative","scale":{"domain":[-19.47,-15.56],"reverse":true,"nice":false,"zero":false},"axis":{"orient":"left","values":[-19,-18,-17,-16],"labelExpr":"''+datum.value","tickSize":-12,"labelPadding":20,"title":"B","titlePadding":7}},"y2":{"field":"u"},"detail":{"field":"g"}}},
{"transform":[{"filter":"datum.s=='M'"}],"mark":{"type":"area","color":"#828282","clip":true},"encoding":{"x":{"field":"p","type":"quantitative","scale":{"domain":[-15,45],"nice":false,"zero":false},"axis":{"orient":"bottom","values":[-14,-12,-8,-6,-4,-2,2,4,6,8,12,14,16,18,22,24,26,28,32,34,36,38,42,44],"tickSize":-4,"labels":false,"title":null}},"y":{"field":"t","type":"quantitative","scale":{"domain":[-19.47,-15.56],"reverse":true,"nice":false,"zero":false},"axis":{"orient":"left","values":[-19.4,-19.2,-18.8,-18.6,-18.4,-18.2,-17.8,-17.6,-17.4,-17.2,-16.8,-16.6,-16.4,-16.2,-15.8,-15.6],"tickSize":-6,"labels":false,"title":null}},"y2":{"field":"u"},"detail":{"field":"g"}}},
{"transform":[{"filter":"datum.s=='D'"}],"mark":{"type":"area","color":"#505050","clip":true},"encoding":{"x":{"field":"p","type":"quantitative","scale":{"domain":[-15,45],"nice":false,"zero":false},"axis":null},"y":{"field":"t","type":"quantitative","scale":{"domain":[-19.47,-15.56],"reverse":true,"nice":false,"zero":false},"axis":null},"y2":{"field":"u"},"detail":{"field":"g"}}}
]},
{"width":481,"height":141,"transform":[{"filter":"datum.b=='I'"}],"resolve":{"axis":{"x":"independent","y":"independent"}},
"layer":[
{"transform":[{"filter":"datum.s=='L'"}],"mark":{"type":"area","color":"#c8c8c8","clip":true},"encoding":{"x":{"field":"p","type":"quantitative","scale":{"domain":[-15,45],"nice":false,"zero":false},"axis":{"orient":"bottom","values":[-10,0,10,20,30,40],"labelExpr":"''+datum.value","tickSize":-7,"labelPadding":12,"title":"phase","titlePadding":-7}},"y":{"field":"t","type":"quantitative","scale":{"domain":[-19.29,-15.85],"reverse":true,"nice":false,"zero":false},"axis":{"orient":"left","values":[-19,-18,-17,-16],"labelExpr":"''+datum.value","tickSize":-12,"labelPadding":20,"title":"I","titlePadding":7}},"y2":{"field":"u"},"detail":{"field":"g"}}},
{"transform":[{"filter":"datum.s=='M'"}],"mark":{"type":"area","color":"#828282","clip":true},"encoding":{"x":{"field":"p","type":"quantitative","scale":{"domain":[-15,45],"nice":false,"zero":false},"axis":{"orient":"bottom","values":[-14,-12,-8,-6,-4,-2,2,4,6,8,12,14,16,18,22,24,26,28,32,34,36,38,42,44],"tickSize":-4,"labels":false,"title":null}},"y":{"field":"t","type":"quantitative","scale":{"domain":[-19.29,-15.85],"reverse":true,"nice":false,"zero":false},"axis":{"orient":"left","values":[-19.2,-18.8,-18.6,-18.4,-18.2,-17.8,-17.6,-17.4,-17.2,-16.8,-16.6,-16.4,-16.2],"tickSize":-6,"labels":false,"title":null}},"y2":{"field":"u"},"detail":{"field":"g"}}},
{"transform":[{"filter":"datum.s=='D'"}],"mark":{"type":"area","color":"#505050","clip":true},"encoding":{"x":{"field":"p","type":"quantitative","scale":{"domain":[-15,45],"nice":false,"zero":false},"axis":null},"y":{"field":"t","type":"quantitative","scale":{"domain":[-19.29,-15.85],"reverse":true,"nice":false,"zero":false},"axis":null},"y2":{"field":"u"},"detail":{"field":"g"}}}
]}
]
}
